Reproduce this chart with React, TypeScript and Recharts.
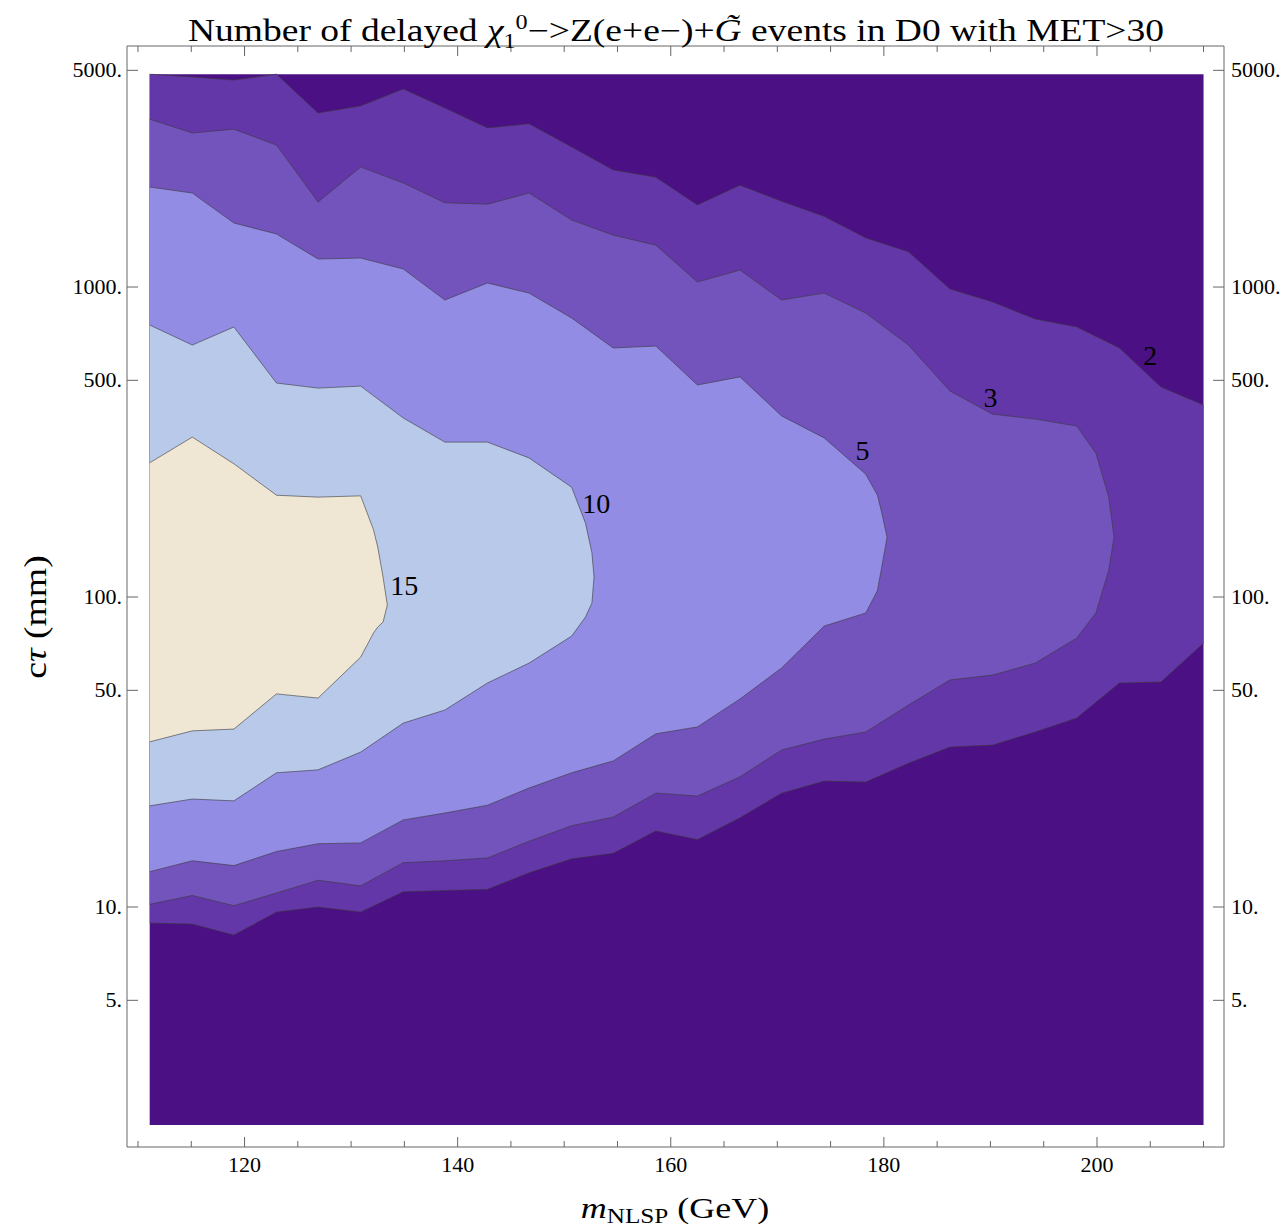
import React from 'react';
import { ComposedChart, Area, XAxis, YAxis, ReferenceDot } from 'recharts';

// grid of m_NLSP columns (GeV) where the contour vertices sit
const massGrid = [
  111.1, 115.1, 119.0, 123.0, 126.9, 130.9, 134.9, 138.8, 142.8, 146.7, 150.7, 154.6, 158.6,
  162.5, 166.5, 170.4, 174.4, 178.3, 182.3, 186.2, 190.2, 194.2, 198.1, 202.1, 206.0, 210.0,
];

// plotted range of c*tau (mm)
const ctTop = 4860;
const ctBottom = 1.98;

// level 2 band (reaches the right edge)
const lvl2Lo = [8.88, 8.81, 8.12, 9.63, 10.0, 9.63, 11.2, 11.3, 11.4, 12.9, 14.3, 14.9, 17.6, 16.5, 19.4, 23.3, 25.5, 25.3, 29.1, 32.8, 33.3, 36.7, 40.7, 52.8, 53.2, 71.0];
const lvl2Hi = [4860, 4760, 4650, 4860, 3640, 3840, 4350, 3780, 3260, 3360, 2830, 2385, 2260, 1840, 2130, 1890, 1690, 1440, 1300, 985, 895, 788, 743, 636, 476, 416];

// level 3 band, closes near 201.6 GeV
const lvl3Tip = [199.9, 201.1, 201.6];
const lvl3Lo = [10.2, 10.9, 10.1, 11.1, 12.2, 11.7, 13.9, 14.1, 14.4, 16.3, 18.3, 19.5, 23.3, 22.8, 26.3, 32.1, 34.8, 36.7, 44.8, 54.0, 56.0, 61.2, 73.7, 88.8, 122, 156];
const lvl3Hi = [3480, 3140, 3230, 2870, 1880, 2440, 2165, 1870, 1850, 2010, 1645, 1470, 1365, 1038, 1134, 908, 956, 824, 650, 462, 389, 375, 356, 291, 210, 156];

// level 5 band, closes near 180.3 GeV
const lvl5Tip = [179.4, 179.8, 180.3];
const lvl5Lo = [13.0, 14.1, 13.6, 15.1, 16.0, 16.1, 19.1, 20.1, 21.3, 24.2, 27.1, 29.6, 36.2, 38.1, 46.9, 59.0, 80.6, 88.8, 105, 125, 156];
const lvl5Hi = [2102, 2010, 1609, 1483, 1231, 1240, 1143, 908, 1030, 956, 794, 636, 645, 483, 513, 384, 326, 249, 213, 187, 156];

// level 10 band, closes near 152.8 GeV
const lvl10Tip = [152.0, 152.6, 152.8];
const lvl10Lo = [21.2, 22.3, 22.0, 27.1, 27.7, 31.6, 39.2, 43.2, 52.8, 61.2, 74.8, 86.2, 95.6, 116];
const lvl10Hi = [754, 650, 743, 490, 472, 479, 378, 316, 316, 281, 226, 173, 139, 116];

// level 15 band, closes near 133.4 GeV
const lvl15Tip = [132.1, 132.5, 133.0, 133.4];
const lvl15Lo = [34.1, 37.0, 37.5, 48.7, 47.2, 64.0, 76.5, 80.0, 83.0, 94.2];
const lvl15Hi = [271, 328, 269, 213, 210, 212, 165, 145, 116, 94.2];

// contour labels
const labelText = ['2', '3', '5', '10', '15'];
const labelMass = [205.0, 190.0, 178.0, 153.0, 135.0];
const labelCt = [603, 442, 298, 201, 109];

const xTicks = [110, 115, 120, 125, 130, 135, 140, 145, 150, 155, 160, 165, 170, 175, 180, 185, 190, 195, 200, 205, 210];
const xMajor = [120, 140, 160, 180, 200];
const yTicks = [5, 10, 50, 100, 500, 1000, 5000];

const rows = (mass: number[], lo: number[], hi: number[]) =>
  mass.map((m, i) => ({ m, band: [lo[i], hi[i]] }));

const bands = [
  { key: 'bg', color: '#4b1083', data: rows([massGrid[0], massGrid[25]], [ctBottom, ctBottom], [ctTop, ctTop]), line: false },
  { key: 'l2', color: '#6437a8', data: rows(massGrid, lvl2Lo, lvl2Hi), line: true },
  { key: 'l3', color: '#7353bc', data: rows(massGrid.slice(0, 23).concat(lvl3Tip), lvl3Lo, lvl3Hi), line: true },
  { key: 'l5', color: '#928ce5', data: rows(massGrid.slice(0, 18).concat(lvl5Tip), lvl5Lo, lvl5Hi), line: true },
  { key: 'l10', color: '#b8c9e9', data: rows(massGrid.slice(0, 11).concat(lvl10Tip), lvl10Lo, lvl10Hi), line: true },
  { key: 'l15', color: '#f0e6d4', data: rows(massGrid.slice(0, 6).concat(lvl15Tip), lvl15Lo, lvl15Hi), line: true },
];

const serif = '"Liberation Serif", "Times New Roman", serif';
const frame = '#666';

const BottomTick = (props: any) => {
  const { x, y, payload } = props;
  const major = xMajor.includes(payload.value);
  return (
    <g>
      <line x1={x} x2={x} y1={y} y2={y - (major ? 10 : 6)} stroke={frame} />
      {major && (
        <text x={x} y={y + 25} textAnchor="middle" fontSize={22} fontFamily={serif} fill="#000">
          {payload.value}
        </text>
      )}
    </g>
  );
};

const TopTick = (props: any) => {
  const { x, y, payload } = props;
  const major = xMajor.includes(payload.value);
  return <line x1={x} x2={x} y1={y} y2={y + (major ? 10 : 6)} stroke={frame} />;
};

const LeftTick = (props: any) => {
  const { x, y, payload } = props;
  return (
    <g>
      <line x1={x} x2={x + 11} y1={y} y2={y} stroke={frame} />
      <text x={x - 5} y={y + 7} textAnchor="end" fontSize={22} fontFamily={serif} fill="#000">
        {payload.value + '.'}
      </text>
    </g>
  );
};

const RightTick = (props: any) => {
  const { x, y, payload } = props;
  return (
    <g>
      <line x1={x} x2={x - 11} y1={y} y2={y} stroke={frame} />
      <text x={x + 7} y={y + 7} textAnchor="start" fontSize={22} fontFamily={serif} fill="#000">
        {payload.value + '.'}
      </text>
    </g>
  );
};

export default function App() {
  return (
    <div style={{ position: 'relative', width: 1272, height: 1222, fontFamily: serif, color: '#000' }}>
      <ComposedChart width={1272} height={1222} margin={{ top: 37, right: 6, bottom: 43, left: 39 }}>
        <XAxis
          xAxisId="b"
          dataKey="m"
          type="number"
          domain={[108.97, 211.92]}
          allowDataOverflow
          ticks={xTicks}
          interval={0}
          height={40}
          tickSize={0}
          tickMargin={0}
          tickLine={false}
          tick={<BottomTick />}
          axisLine={{ stroke: frame }}
        />
        <XAxis
          xAxisId="t"
          orientation="top"
          dataKey="m"
          type="number"
          domain={[108.97, 211.92]}
          allowDataOverflow
          ticks={xTicks}
          interval={0}
          height={1}
          tickSize={0}
          tickMargin={0}
          tickLine={false}
          tick={<TopTick />}
          axisLine={{ stroke: frame }}
        />
        <YAxis
          yAxisId="l"
          type="number"
          scale="log"
          domain={[1.682, 5991]}
          allowDataOverflow
          ticks={yTicks}
          interval={0}
          width={80}
          tickSize={0}
          tickMargin={0}
          tickLine={false}
          tick={<LeftTick />}
          axisLine={{ stroke: frame }}
        />
        <YAxis
          yAxisId="r"
          orientation="right"
          type="number"
          scale="log"
          domain={[1.682, 5991]}
          allowDataOverflow
          ticks={yTicks}
          interval={0}
          width={50}
          tickSize={0}
          tickMargin={0}
          tickLine={false}
          tick={<RightTick />}
          axisLine={{ stroke: frame }}
        />
        {bands.map((b) => (
          <Area
            key={b.key}
            xAxisId="b"
            yAxisId="l"
            data={b.data}
            dataKey="band"
            type="linear"
            fill={b.color}
            fillOpacity={1}
            stroke={b.line ? '#3a3a3a' : 'none'}
            strokeOpacity={0.6}
            strokeWidth={1}
            dot={false}
            activeDot={false}
            isAnimationActive={false}
          />
        ))}
        {labelText.map((t, i) => (
          <ReferenceDot
            key={t}
            xAxisId="b"
            yAxisId="l"
            x={labelMass[i]}
            y={labelCt[i]}
            r={0}
            fill="none"
            stroke="none"
            label={{ value: t, position: 'center', fontSize: 28, fontFamily: serif, fill: '#000' }}
          />
        ))}
      </ComposedChart>

      <div
        style={{
          position: 'absolute',
          left: 668,
          top: 8,
          transform: 'translateX(-50%) scaleX(1.21)',
          whiteSpace: 'nowrap',
          fontSize: 31,
          lineHeight: '30px',
        }}
      >
        Number of delayed <i>χ</i>
        <span style={{ fontSize: 20, position: 'relative', top: 7 }}>1</span>
        <span style={{ fontSize: 20, position: 'relative', top: -12 }}>0</span>
        −&gt;Z(e+e−)+<i>G̃</i> events in D0 with MET&gt;30
      </div>

      <div
        style={{
          position: 'absolute',
          left: 27,
          top: 609,
          transform: 'translate(-50%, -50%) rotate(-90deg) scaleX(1.18)',
          whiteSpace: 'nowrap',
          fontSize: 32,
          lineHeight: '32px',
        }}
      >
        c<i>τ</i> (mm)
      </div>

      <div
        style={{
          position: 'absolute',
          left: 667,
          top: 1185,
          transform: 'translateX(-50%) scaleX(1.2)',
          whiteSpace: 'nowrap',
          fontSize: 30,
          lineHeight: '30px',
        }}
      >
        <i>m</i>
        <span style={{ fontSize: 21, lineHeight: '21px', position: 'relative', top: 5 }}>NLSP</span> (GeV)
      </div>
    </div>
  );
}
